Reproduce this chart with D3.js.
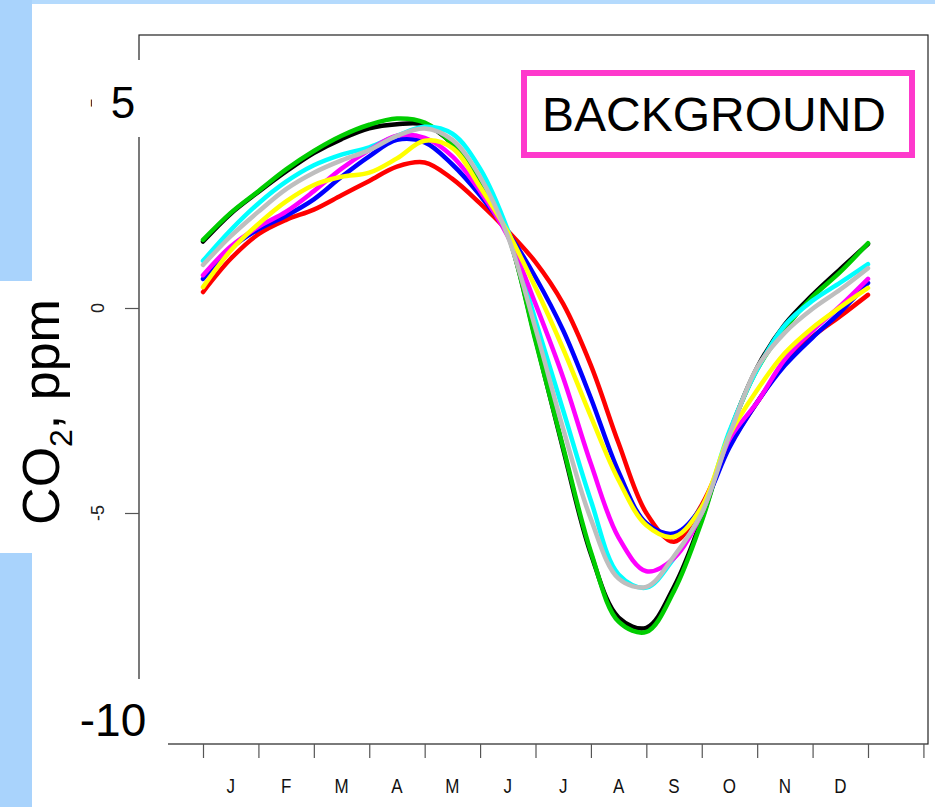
<!DOCTYPE html>
<html>
<head>
<meta charset="utf-8">
<script src="https://cdn.jsdelivr.net/npm/d3@7"></script>
<style>
  body { margin: 0; background: #fff; }
  svg { display: block; font-family: "Liberation Sans", Arial, sans-serif; }
</style>
</head>
<body>
<div id="chart"></div>
<script>
const width = 935;
const height = 807;

// half-month positions (0 = start of Jan, 12 = end of Dec)
const months = [0, 0.5, 1, 1.5, 2, 2.5, 3, 3.5, 4, 4.5, 5, 5.5, 6, 6.5, 7, 7.5, 8, 8.5, 9, 9.5, 10, 10.5, 11, 11.5, 12];
const monthLabels = ['J', 'F', 'M', 'A', 'M', 'J', 'J', 'A', 'S', 'O', 'N', 'D'];
const yTicks = [0, -5];

// seasonal CO2 cycles, ppm (drawn in R palette order)
const black   = [1.62, 2.3, 2.83, 3.33, 3.78, 4.12, 4.38, 4.48, 4.47, 4.0, 3.1, 1.8, -0.75, -3.45, -6.0, -7.55, -7.8, -6.8, -5.15, -3.05, -1.45, -0.4, 0.32, 0.95, 1.56];
const red     = [0.39, 1.2, 1.8, 2.15, 2.4, 2.75, 3.1, 3.45, 3.55, 3.15, 2.55, 1.88, 1.12, 0.1, -1.4, -3.3, -5.0, -5.7, -4.8, -3.35, -2.3, -1.35, -0.7, -0.2, 0.32];
const green   = [1.66, 2.32, 2.85, 3.38, 3.83, 4.2, 4.47, 4.62, 4.52, 4.0, 3.1, 1.8, -0.8, -3.4, -5.95, -7.65, -7.9, -6.9, -5.2, -3.05, -1.5, -0.5, 0.27, 0.88, 1.58];
const blue    = [0.71, 1.45, 1.92, 2.25, 2.65, 3.2, 3.7, 4.1, 4.04, 3.5, 2.75, 1.85, 0.75, -0.55, -2.2, -4.0, -5.25, -5.5, -4.85, -3.4, -2.3, -1.4, -0.72, -0.1, 0.61];
const cyan    = [1.15, 1.9, 2.55, 3.08, 3.48, 3.74, 3.92, 4.2, 4.42, 4.25, 3.4, 1.9, -0.3, -2.5, -4.7, -6.5, -6.82, -6.1, -5.0, -3.0, -1.5, -0.42, 0.18, 0.62, 1.07];
const magenta = [0.8, 1.5, 1.98, 2.35, 2.85, 3.4, 3.85, 4.2, 4.15, 3.7, 2.85, 1.75, 0.1, -1.7, -3.8, -5.6, -6.42, -6.1, -5.0, -3.2, -2.3, -1.25, -0.55, 0.05, 0.71];
const yellow  = [0.51, 1.4, 2.05, 2.6, 3.0, 3.2, 3.3, 3.65, 4.08, 3.9, 2.95, 1.85, 0.5, -1.0, -2.65, -4.2, -5.3, -5.58, -4.85, -3.1, -2.0, -1.1, -0.48, 0.02, 0.49];
const grey    = [1.05, 1.75, 2.35, 2.9, 3.3, 3.6, 3.85, 4.2, 4.38, 4.1, 3.2, 1.75, -0.5, -2.95, -5.15, -6.6, -6.8, -6.05, -5.0, -3.1, -1.45, -0.6, -0.02, 0.45, 0.97];

const series = [
    {color: '#000000', values: black},
    {color: '#ff0000', values: red},
    {color: '#00cd00', values: green},
    {color: '#0000ff', values: blue},
    {color: '#00ffff', values: cyan},
    {color: '#ff00ff', values: magenta},
    {color: '#ffff00', values: yellow},
    {color: '#bebebe', values: grey}
];

const svg = d3.select('#chart').append('svg').attr('width', width).attr('height', height);

// slide background
svg.append('rect').attr('x', 0).attr('y', 0).attr('width', width).attr('height', height).attr('fill', '#fff');
svg.append('rect').attr('x', 0).attr('y', 0).attr('width', width).attr('height', 4).attr('fill', '#b4dafd');
svg.append('rect').attr('x', 0).attr('y', 0).attr('width', 32).attr('height', height).attr('fill', '#a9d3fc');

const x = d3.scaleLinear().domain([0, 12]).range([203, 868]);
const y = d3.scaleLinear().domain([-10, 5]).range([718, 103]);

// plot frame
const frame = {left: 139, top: 35, right: 928, bottom: 744};
svg.append('rect')
    .attr('x', frame.left).attr('y', frame.top)
    .attr('width', frame.right - frame.left).attr('height', frame.bottom - frame.top)
    .attr('fill', 'none').attr('stroke', '#222').attr('stroke-width', 1.2);

// x axis ticks 0..13, labels between
const xAxis = d3.axisBottom(x)
    .tickValues(d3.range(0, 14))
    .tickSize(14)
    .tickFormat('');
svg.append('g')
    .attr('transform', `translate(0,${frame.bottom})`)
    .call(xAxis)
    .call(g => g.select('.domain').remove())
    .call(g => g.selectAll('line').attr('stroke', '#555').attr('stroke-width', 1.2));

svg.append('g').selectAll('text')
    .data(monthLabels)
    .enter().append('text')
    .attr('transform', (d, i) => `translate(${x(i + 0.5)},793) scale(0.85,1)`)
    .attr('text-anchor', 'middle')
    .attr('font-size', 20)
    .attr('fill', '#111')
    .text(d => d);

// y axis ticks (R style, rotated labels)
const yAxis = d3.axisLeft(y).tickValues([5, 0, -5, -10]).tickSize(14).tickFormat('');
svg.append('g')
    .attr('transform', `translate(${frame.left},0)`)
    .call(yAxis)
    .call(g => g.select('.domain').remove())
    .call(g => g.selectAll('line').attr('stroke', '#555').attr('stroke-width', 1.2));

svg.append('g').selectAll('text')
    .data([5].concat(yTicks))
    .enter().append('text')
    .attr('transform', d => `translate(104,${y(d)}) rotate(-90)`)
    .attr('text-anchor', 'middle')
    .attr('font-size', 18)
    .attr('fill', '#222')
    .text(d => d < 0 ? '-' + Math.abs(d) : d);

// curves
const line = d3.line()
    .x((d, i) => x(months[i]))
    .y(d => y(d))
    .curve(d3.curveCatmullRom.alpha(0.5));

svg.append('g').selectAll('path')
    .data(series)
    .enter().append('path')
    .attr('d', d => line(d.values))
    .attr('fill', 'none')
    .attr('stroke', d => d.color)
    .attr('stroke-width', 4.5)
    .attr('stroke-linecap', 'round')
    .attr('stroke-linejoin', 'round');

// slide overlays: big tick labels on white boxes
svg.append('rect').attr('x', 92).attr('y', 60).attr('width', 52).attr('height', 77).attr('fill', '#fff');
svg.append('text')
    .attr('x', 123).attr('y', y(5) + 15)
    .attr('text-anchor', 'middle')
    .attr('font-size', 44)
    .attr('fill', '#000')
    .text('5');

svg.append('rect').attr('x', 40).attr('y', 679).attr('width', 128).attr('height', 90).attr('fill', '#fff');
svg.append('text')
    .attr('x', 113).attr('y', y(-10) + 18)
    .attr('text-anchor', 'middle')
    .attr('font-size', 46)
    .attr('fill', '#000')
    .text('-10');

// y title on white box
svg.append('rect').attr('x', 0).attr('y', 281).attr('width', 80).attr('height', 272).attr('fill', '#fff');
const title = svg.append('text')
    .attr('transform', 'translate(59,412) rotate(-90)')
    .attr('text-anchor', 'middle')
    .attr('font-size', 52)
    .attr('fill', '#000');
title.append('tspan').text('CO');
title.append('tspan').attr('font-size', 32).attr('dy', 13).text('2');
title.append('tspan').attr('dy', -13).text(', ppm');

// legend-like label
svg.append('rect')
    .attr('x', 524).attr('y', 73).attr('width', 388).attr('height', 82)
    .attr('fill', '#fff').attr('stroke', '#fe39cc').attr('stroke-width', 6);
svg.append('text')
    .attr('x', 714).attr('y', 131)
    .attr('text-anchor', 'middle')
    .attr('font-size', 48)
    .attr('fill', '#000')
    .text('BACKGROUND');
</script>
</body>
</html>
